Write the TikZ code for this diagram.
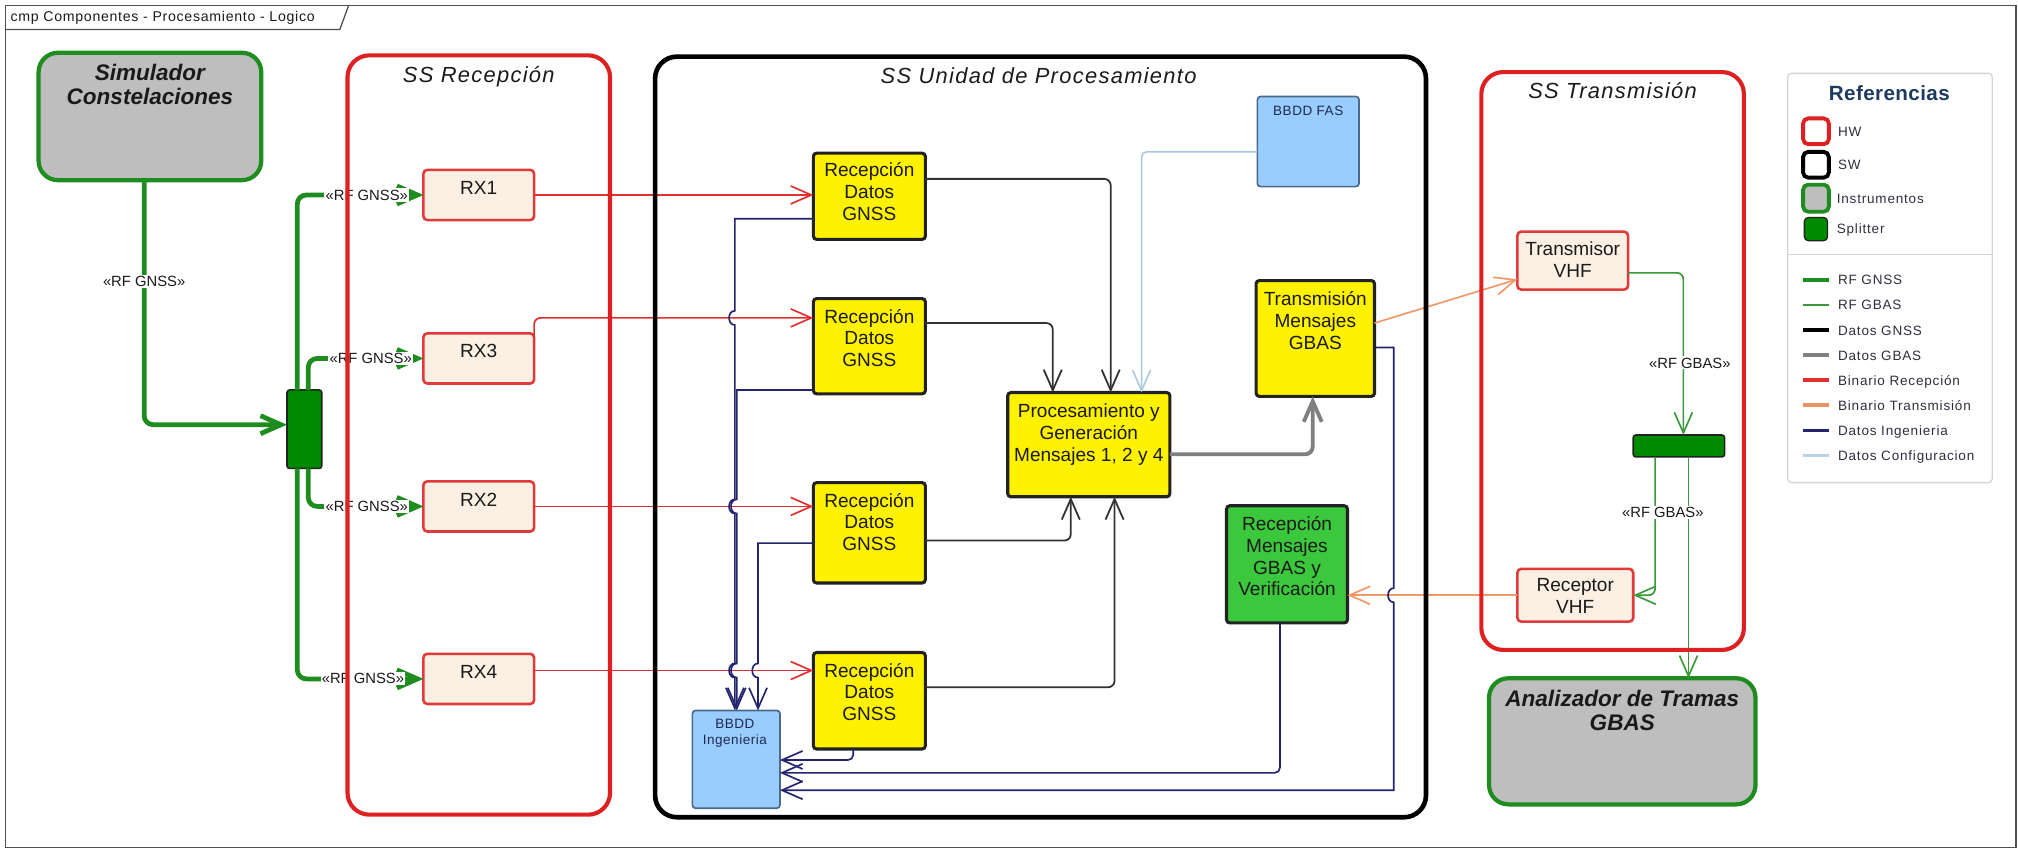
\documentclass[tikz,border=0pt]{standalone}
\usepackage{fontspec}
\setmainfont{Liberation Sans}
\usetikzlibrary{arrows.meta}
\definecolor{hwred}{HTML}{DD2020}
\definecolor{rxborder}{HTML}{E03A3A}
\definecolor{rxfill}{HTML}{FCEFE3}
\definecolor{instgreen}{HTML}{1E8C1E}
\definecolor{instgray}{HTML}{BEBEBE}
\definecolor{splgreen}{HTML}{008A00}
\definecolor{ygreen}{HTML}{3CC83C}
\definecolor{bbdd}{HTML}{99CCFF}
\definecolor{bbddborder}{HTML}{4A6A8A}
\definecolor{dbtext}{HTML}{1E2A50}
\definecolor{navy}{HTML}{23236E}
\definecolor{cfgblue}{HTML}{A8C8E0}
\definecolor{gbasgray}{HTML}{808080}
\definecolor{txorange}{HTML}{F09868}
\definecolor{rfgbas}{HTML}{3A9A3A}
\definecolor{rfgnss}{HTML}{1E8C1E}
\definecolor{datagnss}{HTML}{333333}
\definecolor{redline}{HTML}{E03030}
\definecolor{refblue}{HTML}{1F3A5F}
\definecolor{legtext}{HTML}{2E2E3E}
\definecolor{leggray}{HTML}{D4D4D4}
\definecolor{txtc}{HTML}{1A1A1A}
\definecolor{boxblack}{HTML}{222222}
\definecolor{framec}{HTML}{505050}
\tikzset{
  bx/.style={anchor=north west, inner sep=0pt, outer sep=0pt},
  rxbox/.style={bx, draw=rxborder, fill=rxfill, line width=2pt, rounded corners=3pt},
  ybox/.style={bx, draw=boxblack, fill=yellow, line width=2.4pt, rounded corners=2.5pt},
  gbox/.style={bx, draw=boxblack, fill=ygreen, line width=2.4pt, rounded corners=2.5pt},
  dbbox/.style={bx, draw=bbddborder, fill=bbdd, line width=1.3pt, rounded corners=2.5pt},
  instbox/.style={bx, draw=instgreen, fill=instgray, line width=3.3pt, rounded corners=15pt},
  splbox/.style={bx, draw=boxblack, fill=splgreen, line width=1.2pt, rounded corners=2pt},
  hwcont/.style={bx, draw=hwred, line width=3.2pt, rounded corners=17pt},
  swcont/.style={bx, draw=black, line width=3.6pt, rounded corners=17pt},
  btxt/.style={inner sep=0pt, align=center, text=txtc, font=\fontsize{14.8}{17}\selectfont},
  ttl/.style={inner sep=0pt, text=txtc, font=\fontsize{17}{20}\selectfont\itshape\addfontfeatures{LetterSpace=6}},
  insttxt/.style={inner sep=0pt, align=center, text=txtc, font=\fontsize{17.5}{19}\selectfont\bfseries\itshape},
  dbtxt/.style={inner sep=0pt, align=center, text=dbtext, font=\fontsize{10.5}{12.5}\selectfont\addfontfeatures{LetterSpace=4}},
  lab/.style={inner sep=1pt, fill=white, text=txtc, font=\fontsize{11.5}{13}\selectfont},
  legtxt/.style={inner sep=0pt, anchor=base west, text=legtext, font=\fontsize{10.5}{12}\selectfont\addfontfeatures{LetterSpace=6}},
  arr/.style={-{Straight Barb[length=16pt,width=14pt]}},
  rfg/.style={draw=rfgnss, line width=3.7pt, rounded corners=7pt, arr},
  redc/.style={draw=redline, line width=1.3pt, rounded corners=5pt, arr},
  blkc/.style={draw=datagnss, line width=1.4pt, rounded corners=5pt, arr},
  cfgc/.style={draw=cfgblue, line width=1.2pt, rounded corners=4pt, arr},
  gryc/.style={draw=gbasgray, line width=3pt, rounded corners=6pt, arr},
  orc/.style={draw=txorange, line width=1.3pt, arr},
  rfgb/.style={draw=rfgbas, line width=1.3pt, rounded corners=5pt, arr},
  navc/.style={draw=navy, line width=1.3pt, arr},
}
\begin{document}
\begin{tikzpicture}[x=1pt,y=-1pt]
\useasboundingbox (0,0) rectangle (1568,660.5);
% frame
\draw[framec, line width=1pt] (4,4) rectangle (1566.5,658.5);
\draw[framec, line width=1pt] (4,23) -- (264,23) -- (271,4);
\node[inner sep=0pt, anchor=base west, text=txtc, font=\fontsize{11}{13}\selectfont\addfontfeatures{LetterSpace=5}] (tab) at (8,16.5) {cmp Componentes - Procesamiento - Logico};

% boxes
\node[instbox, minimum width=173pt, minimum height=99pt] (sim) at (30,41) {};
\node[insttxt] (simt) at (116.5,65.5) {Simulador\\Constelaciones};
\node[splbox, minimum width=27pt, minimum height=61pt] (spl1) at (223,303) {};

\node[rxbox, minimum width=86pt, minimum height=39pt] (rx1) at (329,132) {};
\node[btxt] (rx1t) at (372,146) {RX1};
\node[rxbox, minimum width=86pt, minimum height=39pt] (rx3) at (329,259) {};
\node[btxt] (rx3t) at (372,273) {RX3};
\node[rxbox, minimum width=86pt, minimum height=39pt] (rx2) at (329,374) {};
\node[btxt] (rx2t) at (372,388) {RX2};
\node[rxbox, minimum width=86pt, minimum height=39pt] (rx4) at (329,508) {};
\node[btxt] (rx4t) at (372,522) {RX4};

\node[ybox, minimum width=87pt, minimum height=67pt] (ya) at (632,119) {};
\node[btxt] (yat) at (675.5,149) {Recepción\\Datos\\GNSS};
\node[ybox, minimum width=87pt, minimum height=74pt] (yb) at (632,232) {};
\node[btxt] (ybt) at (675.5,262.6) {Recepción\\Datos\\GNSS};
\node[ybox, minimum width=87pt, minimum height=78pt] (yc) at (632,375) {};
\node[btxt] (yct) at (675.5,405.6) {Recepción\\Datos\\GNSS};
\node[ybox, minimum width=87pt, minimum height=75pt] (yd) at (632,507) {};
\node[btxt] (ydt) at (675.5,537.7) {Recepción\\Datos\\GNSS};

\node[ybox, minimum width=126pt, minimum height=81pt] (proc) at (783,305) {};
\node[btxt] (proct) at (846,337.5) {Procesamiento y\\Generación\\Mensajes 1, 2 y 4};
\node[dbbox, minimum width=79pt, minimum height=70pt] (fas) at (977,75) {};
\node[dbtxt] (fast) at (1016.5,86) {BBDD FAS};
\node[ybox, minimum width=92pt, minimum height=90pt] (trans) at (976,218) {};
\node[btxt] (transt) at (1022,249) {Transmisión\\Mensajes\\GBAS};
\node[gbox, minimum width=94pt, minimum height=91pt] (recm) at (953,393) {};
\node[btxt] (recmt) at (1000,432.2) {Recepción\\Mensajes\\GBAS y\\Verificación};
\node[dbbox, minimum width=68pt, minimum height=76pt] (bbing) at (538,552) {};
\node[dbtxt] (bbingt) at (571,569.8) {BBDD\\Ingenieria};

\node[rxbox, minimum width=86pt, minimum height=45pt] (txv) at (1179,180) {};
\node[btxt] (txvt) at (1222,201.5) {Transmisor\\VHF};
\node[splbox, minimum width=71pt, minimum height=17pt] (spl2) at (1269,338) {};
\node[rxbox, minimum width=90pt, minimum height=41pt] (rxv) at (1179,442) {};
\node[btxt] (rxvt) at (1224,463) {Receptor\\VHF};
\node[instbox, minimum width=207pt, minimum height=98pt] (ana) at (1157,527) {};
\node[insttxt, font=\fontsize{17.5}{18}\selectfont\bfseries\itshape] (anat) at (1260.5,552) {Analizador de Tramas\\GBAS};

% RF GNSS (thick green)
\draw[rfg] ([xshift=-4.5pt]sim.south) |- ([yshift=3.5pt]spl1.west);
\draw[rfg] ([xshift=-5.5pt]spl1.north) |- (rx1.west);
\draw[rfg] ([xshift=3pt]spl1.north) |- (rx3.west);
\draw[rfg] ([xshift=3pt]spl1.south) |- (rx2.west);
\draw[rfg] ([xshift=-5.5pt]spl1.south) |- (rx4.west);

% Binario Recepcion (red)
\draw[redc] (rx1.east) -- (rx1.east -| ya.west);
\draw[redc] ([yshift=-3pt]rx3.north east) |- ([yshift=22pt]yb.west);
\draw[redc] (rx2.east) -- (rx2.east -| yc.west);
\draw[redc] ([yshift=6.5pt]rx4.east) -- ([yshift=23.5pt]yd.west);

% Datos GNSS (black)
\draw[blkc] ([yshift=13.5pt]ya.east) -| ([xshift=17pt]proc.north);
\draw[blkc] ([yshift=18pt]yb.east) -| ([xshift=-28pt]proc.north);
\draw[blkc] ([yshift=-6pt]yc.east) -| ([xshift=-14pt]proc.south);
\draw[blkc] ([yshift=10.5pt]yd.east) -| ([xshift=20pt]proc.south);

% Datos Configuracion
\draw[cfgc] ([yshift=-8pt]fas.west) -| ([xshift=41pt]proc.north);
% Datos GBAS
\draw[gryc] ([yshift=-7.5pt]proc.east) -| ([xshift=-2pt]trans.south);
% Binario Transmision
\draw[orc] ([yshift=12pt]trans.east) -- ([yshift=-14.5pt]txv.west);
\draw[orc] (rxv.west) -- (rxv.west -| recm.east);
% RF GBAS
\draw[rfgb] ([yshift=-9.5pt]txv.east) -| ([xshift=3.5pt]spl2.north);
\draw[rfgb] ([xshift=-18.5pt]spl2.south) |- (rxv.east);
\draw[rfgb] ([xshift=7.5pt]spl2.south) -- ([xshift=51.5pt]ana.north);

% Datos Ingenieria (navy)
\draw[navc] ([yshift=-17.5pt]ya.west) -- (571,170) -- (571,241.5) .. controls (565,241.5) and (565,252.5) .. (571,252.5) -- (571,388) .. controls (565,388) and (565,399) .. (571,399) -- (571,515.5) .. controls (565,515.5) and (565,526.5) .. (571,526.5) -- ([xshift=-1pt]bbing.north);
\draw[navc] ([yshift=-34pt]yb.west) -- (572.5,303) -- (572.5,388) .. controls (566.5,388) and (566.5,399) .. (572.5,399) -- (572.5,515.5) .. controls (566.5,515.5) and (566.5,526.5) .. (572.5,526.5) -- ([xshift=0.5pt]bbing.north);
\draw[navc] ([yshift=-8pt]yc.west) -- (589,422) -- (589,515.5) .. controls (583,515.5) and (583,526.5) .. (589,526.5) -- ([xshift=17pt]bbing.north);
\draw[navc, rounded corners=4pt] ([xshift=-12.5pt]yd.south) |- ([yshift=-0.5pt]bbing.east);
\draw[navc, rounded corners=4pt] ([xshift=-5.5pt]recm.south) |- ([yshift=-10.5pt]bbing.east);
\draw[navc] ([yshift=-7pt]trans.east) -- (1083,270) -- (1083,457) .. controls (1077,457) and (1077,468) .. (1083,468) -- (1083,614) -- ([yshift=-24pt]bbing.east);

% labels
\node[lab] (lb0) at (112,219) {«RF GNSS»};
\node[lab] (lb1) at (285,151.5) {«RF GNSS»};
\node[lab] (lb3) at (288,278.5) {«RF GNSS»};
\node[lab] (lb2) at (285,393.5) {«RF GNSS»};
\node[lab] (lb4) at (282,527.5) {«RF GNSS»};
\node[lab] (lbg1) at (1313,282) {«RF GBAS»};
\node[lab] (lbg2) at (1292,398) {«RF GBAS»};

% containers
\node[hwcont, minimum width=204pt, minimum height=590pt] (ssrec) at (270,43) {};
\node[ttl] (ssrect) at (372,59.5) {SS Recepción};
\node[swcont, minimum width=599pt, minimum height=591pt] (ssup) at (509,44) {};
\node[ttl] (ssupt) at (807,58.5) {SS Unidad de Procesamiento};
\node[hwcont, minimum width=204pt, minimum height=449pt] (sstx) at (1151,56) {};
\node[ttl] (sstxt) at (1253,70) {SS Transmisión};

% legend
\node[bx, draw=leggray, line width=1pt, rounded corners=3pt, minimum width=159pt, minimum height=318pt] (leg) at (1389,57) {};
\draw[leggray, line width=1pt] (1389,198) -- (1548,198);
\node[inner sep=0pt, text=refblue, font=\fontsize{16}{18}\selectfont\bfseries\addfontfeatures{LetterSpace=2}] (legt) at (1468,72.5) {Referencias};
\node[draw=hwred, fill=white, line width=3pt, rounded corners=4pt, minimum width=20pt, minimum height=20pt, inner sep=0pt] (lhw) at (1411,102) {};
\node[draw=black, fill=white, line width=3pt, rounded corners=4pt, minimum width=20pt, minimum height=20pt, inner sep=0pt] (lsw) at (1411,128) {};
\node[draw=instgreen, fill=instgray, line width=3pt, rounded corners=4pt, minimum width=20pt, minimum height=21pt, inner sep=0pt] (lins) at (1411,154) {};
\node[draw=boxblack, fill=splgreen, line width=1pt, rounded corners=3pt, minimum width=18pt, minimum height=18pt, inner sep=0pt] (lspl) at (1411,178) {};
\node[legtxt] (lhwt) at (1428,105.8) {HW};
\node[legtxt] (lswt) at (1428,131.8) {SW};
\node[legtxt] (linst) at (1427,157.8) {Instrumentos};
\node[legtxt] (lsplt) at (1427,181.8) {Splitter};
\draw[rfgnss, line width=3pt] (1401,217.6) -- (1421,217.6);
\draw[rfgbas, line width=1.8pt] (1401,237) -- (1421,237);
\draw[black, line width=3pt] (1401,256.5) -- (1421,256.5);
\draw[gbasgray, line width=3pt] (1401,276) -- (1421,276);
\draw[redline, line width=3pt] (1401,295.5) -- (1421,295.5);
\draw[txorange!85!brown, line width=3pt] (1401,315) -- (1421,315);
\draw[navy, line width=1.8pt] (1401,334.5) -- (1421,334.5);
\draw[cfgblue!80!white, line width=1.8pt] (1401,354) -- (1421,354);
\node[legtxt] (ll1) at (1428,221.4) {RF GNSS};
\node[legtxt] (ll2) at (1428,240.8) {RF GBAS};
\node[legtxt] (ll3) at (1428,260.3) {Datos GNSS};
\node[legtxt] (ll4) at (1428,279.8) {Datos GBAS};
\node[legtxt] (ll5) at (1428,299.3) {Binario Recepción};
\node[legtxt] (ll6) at (1428,318.8) {Binario Transmisión};
\node[legtxt] (ll7) at (1428,338.3) {Datos Ingenieria};
\node[legtxt] (ll8) at (1428,357.8) {Datos Configuracion};
\end{tikzpicture}
\end{document}
